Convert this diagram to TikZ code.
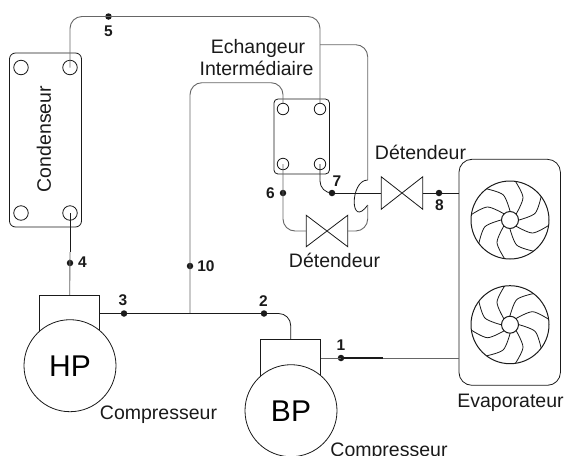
\documentclass[tikz,border=0pt]{standalone}
\usepackage{fontspec}
\setmainfont{Liberation Sans}
\definecolor{pipegray}{HTML}{666666}
\definecolor{ink}{HTML}{1A1A1A}
\tikzset{
  base/.style={line width=0.8pt,draw=ink},
  pipe/.style={line width=0.9pt,draw=pipegray,rounded corners=12pt},
  darkpipe/.style={line width=0.8pt,draw=ink,rounded corners=12pt},
  box/.style={base,rectangle,inner sep=0pt},
  port/.style={base,circle,inner sep=0pt,minimum size=14.5pt},
  sport/.style={base,circle,inner sep=0pt,minimum size=11.5pt},
  comp/.style={base,circle,fill=white,inner sep=0pt,minimum size=92pt,font=\fontsize{30}{32}\selectfont},
  dot/.style={circle,fill=ink,inner sep=0pt,minimum size=6.5pt},
  num/.style={font=\fontsize{15.5}{17}\selectfont\bfseries,inner sep=0pt,text=ink},
  lab/.style={font=\fontsize{19.5}{22}\selectfont,inner sep=0pt,text=ink},
  valve/.style={inner sep=0pt,minimum width=41pt,minimum height=31pt},
}
\newcommand{\drawvalve}[1]{\draw[base] (#1.south west)--(#1.north east)--(#1.south east)--(#1.north west)--cycle;}
\newcommand{\drawfan}[2]{%
  \begin{scope}[shift={(#1)},yscale=#2]
    \draw[base,line width=1pt] (0,0) circle[radius=39];
    \draw[base,line width=1pt] (0,0) circle[radius=8.5];
    \foreach \a in {127,82,37,-8,-53,-98,-143,-188}{
      \draw[base] plot[smooth] coordinates {(\a:39) (\a-22:26) (\a-38:8.5)};
    }
  \end{scope}}
\begin{document}
\begin{tikzpicture}[x=1pt,y=-1pt]
\useasboundingbox (0,0) rectangle (566,456);
% condenser
\node[box,rounded corners=6pt,minimum width=72pt,minimum height=174pt] (cond) at (45.5,140) {};
\node[port] (c1) at (21,67.5) {};
\node[port] (c2) at (70,67.5) {};
\node[port] (c3) at (21,213) {};
\node[port] (c4) at (70,213) {};
\node[lab,rotate=90] (condl) at (44,139) {Condenseur};
% exchanger
\node[box,rounded corners=4pt,minimum width=55.5pt,minimum height=75pt] (ex) at (301.7,136.5) {};
\node[sport] (e1) at (283,109) {};
\node[sport] (e2) at (320,109) {};
\node[sport] (e3) at (283,164) {};
\node[sport] (e4) at (320,164) {};
% valves
\node[valve] (v1) at (327,231) {};
\node[valve,minimum height=32pt] (v2) at (402,193) {};
\drawvalve{v1}
\drawvalve{v2}
% evaporator
\node[box,rounded corners=13pt,minimum width=101.5pt,minimum height=226pt] (evap) at (509.7,272.3) {};
\drawfan{510,220}{-1}
\drawfan{510,324.7}{1}
% compressors
\node[box,minimum width=60pt,minimum height=50pt] (hpb) at (69.7,320.3) {};
\node[box,minimum width=60pt,minimum height=50pt] (bpb) at (290.7,364.7) {};
\node[comp] (hp) at (70,365.7) {HP};
\node[comp] (bp) at (291,410.7) {BP};
% dots
\node[dot] (d1) at (341,358) {};
\node[dot] (d2) at (264,313.5) {};
\node[dot] (d3) at (124,313.5) {};
\node[dot] (d4) at (70,263) {};
\node[dot] (d5) at (108.5,16.5) {};
\node[dot] (d6) at (283,193) {};
\node[dot] (d7) at (332,193) {};
\node[dot] (d8) at (439,193) {};
\node[dot] (d10) at (190,266) {};
\coordinate (j) at (190,313.5);
\coordinate (tr) at (320,16.5);
\coordinate (branch) at (320,44.7);
\coordinate (rr) at (367.7,44.7);
\coordinate (hopa) at (367.7,180);
\coordinate (hopb) at (367.7,205);
\coordinate (top10) at (190,82.7);
\coordinate (split4) at (70,252);
\coordinate (split1) at (383,358);
% pipes
\draw[pipe] (c2.center) |- (d5.center) -- (tr) -- (e2.north);
\draw[pipe] (branch) -- (rr) -- (hopa);
\draw[darkpipe,rounded corners=0pt] (hopa) .. controls +(-18,0) and +(-18,25) .. (hopb);
\draw[pipe] (hopb) |- (v1.east);
\draw[pipe] (e3.center) |- (v1.west);
\draw[pipe] (j) -- (top10) -| (e1.north);
\draw[darkpipe] (e4.center) |- (d7.center);
\draw[darkpipe] (d7.center) -- (v2.west);
\draw[darkpipe] (v2.east) -- (evap.west |- v2.east);
\draw[darkpipe] (c4.center) -- (split4);
\draw[pipe] (split4) -- (hpb.north);
\draw[darkpipe] (hpb.east |- d3) -- (d2.center) -| (bpb.north);
\draw[pipe,line width=0.8pt] (bpb.east |- d1) -- (d1.center);
\draw[darkpipe,line width=1.1pt] (d1.center) -- (split1);
\draw[pipe,line width=0.8pt] (split1) -- (evap.west |- d1);
% numbers
\node[num] (n1) at (341,345) {1};
\node[num] (n2) at (263.5,301) {2};
\node[num] (n3) at (123,300.5) {3};
\node[num] (n4) at (82.5,262) {4};
\node[num] (n5) at (108.5,31.5) {5};
\node[num] (n6) at (270.5,193) {6};
\node[num] (n7) at (337,181) {7};
\node[num] (n8) at (439.5,205) {8};
\node[num] (n10) at (206,266) {10};
% labels
\node[lab,anchor=base] (l1) at (258,53) {Echangeur};
\node[lab,anchor=base] (l2) at (256.5,75) {Intermédiaire};
\node[lab,anchor=base] (l3) at (420.5,159) {Détendeur};
\node[lab,anchor=base] (l4) at (334.5,267.5) {Détendeur};
\node[lab,anchor=base] (l5) at (158.5,419.5) {Compresseur};
\node[lab,anchor=base] (l6) at (389,456) {Compresseur};
\node[lab,anchor=base] (l7) at (510.5,407.5) {Evaporateur};
\end{tikzpicture}
\end{document}
